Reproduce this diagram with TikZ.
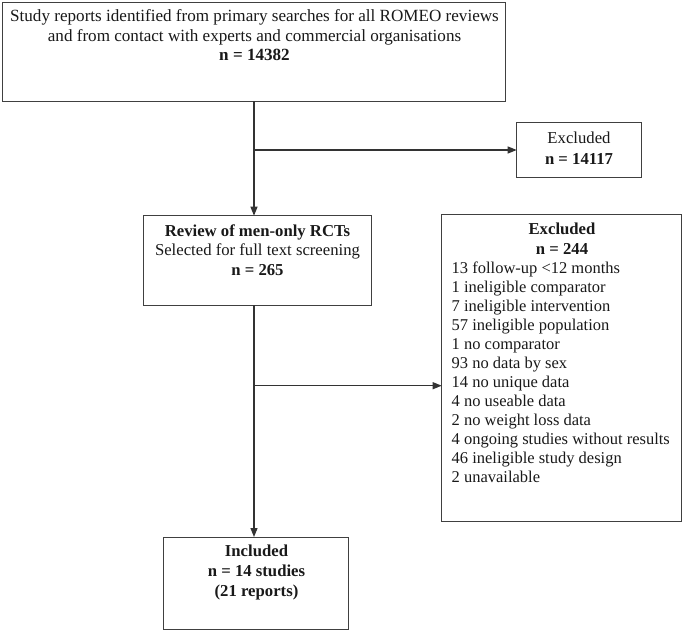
\documentclass[tikz,border=0pt]{standalone}
\usepackage{fontspec}
\setmainfont{Liberation Serif}
\usetikzlibrary{arrows.meta}
\begin{document}
\begin{tikzpicture}[x=1pt,y=-1pt,
  box/.style={draw=black!75, line width=1pt, rectangle, inner sep=0pt, outer sep=0pt},
  txt/.style={inner sep=0pt, outer sep=0pt, text=black!90},
  arr/.style={draw=black!80, line width=1.2pt, -{Triangle[length=9pt,width=7pt]}}]
\useasboundingbox[fill=white] (0,0) rectangle (684,632);
% boxes
\node[box, minimum width=503pt, minimum height=99pt] (top) at (253.5,51.5) {};
\node[box, minimum width=124.3pt, minimum height=54.6pt] (ex1) at (578.85,150) {};
\node[box, minimum width=228.4pt, minimum height=89.3pt] (rev) at (257.5,260.35) {};
\node[box, minimum width=240pt, minimum height=307.7pt] (ex2) at (561.7,367.85) {};
\node[box, minimum width=185pt, minimum height=92.5pt] (inc) at (255.5,583.25) {};
% texts
\node[txt, align=center, anchor=north, font=\fontsize{17.1}{19.7}\selectfont] (toptxt) at (254.5,8.3)
  {\rule{0pt}{13.2pt}Study reports identified from primary searches for all ROMEO reviews\\
   and from contact with experts and commercial organisations\\
   \textbf{n = 14382}};
\node[txt, align=center, anchor=north, font=\fontsize{16.7}{21}\selectfont] (ex1txt) at (579,130.3)
  {\rule{0pt}{13pt}Excluded\\ \textbf{n = 14117}};
\node[txt, align=center, anchor=north, font=\fontsize{16.7}{19.2}\selectfont] (revtxt) at (257.5,223.7)
  {\rule{0pt}{13pt}\textbf{Review of men-only RCTs}\\ Selected for full text screening\\ \textbf{n = 265}};
\node[txt, align=center, anchor=north, font=\fontsize{16.7}{20}\selectfont] (ex2head) at (562,221)
  {\rule{0pt}{13pt}\textbf{Excluded}\\ \textbf{n = 244}};
\node[txt, align=left, anchor=north west, font=\fontsize{16.5}{19.05}\selectfont] (ex2list) at (451.7,260.3)
  {\rule{0pt}{13pt}13 follow-up <12 months\\
   1 ineligible comparator\\
   7 ineligible intervention\\
   57 ineligible population\\
   1 no comparator\\
   93 no data by sex\\
   14 no unique data\\
   4 no useable data\\
   2 no weight loss data\\
   4 ongoing studies without results\\
   46 ineligible study design\\
   2 unavailable};
\node[txt, align=center, anchor=north, font=\fontsize{16.7}{20}\selectfont] (inctxt) at (256.5,543)
  {\rule{0pt}{13pt}\textbf{Included}\\ \textbf{n = 14 studies}\\ \textbf{(21 reports)}};
% connectors
\coordinate (sp) at (254,0);
\coordinate (j2) at (254,385.7);
\draw[arr] (sp |- top.south) -- (sp |- rev.north);
\draw[arr] (sp |- rev.south) -- (sp |- inc.north);
\draw[arr] (sp |- ex1.west) -- (ex1.west);
\draw[arr] (j2) -- (j2 -| ex2.west);
\end{tikzpicture}
\end{document}
